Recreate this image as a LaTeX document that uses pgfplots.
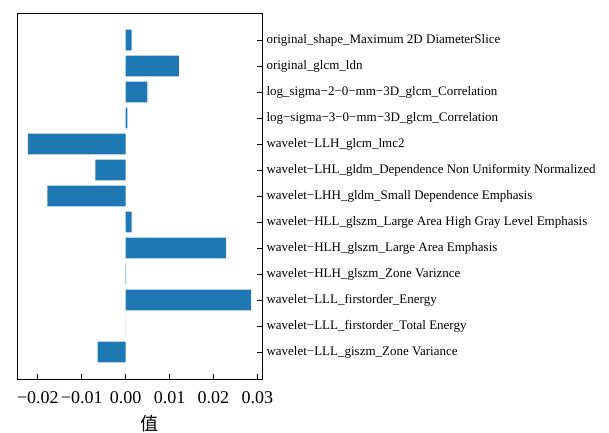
\documentclass[border=0pt]{standalone}
\usepackage{pgfplots}
\pgfplotsset{compat=1.18}
\usepackage{fontspec}
\setmainfont{Liberation Serif}
\newfontfamily\cjk{Noto Sans CJK SC}
\definecolor{barblue}{HTML}{1F77B4}
\begin{document}
\begin{tikzpicture}
\begin{axis}[
  name=ax,
  scale only axis,
  width=245pt, height=366pt,
  xmin=-0.02476, xmax=0.03105,
  ymin=-1.04, ymax=13.04,
  y dir=reverse,
  xbar, bar width=0.8,
  scaled x ticks=false,
  xtick={-0.02,-0.01,0,0.01,0.02,0.03},
  xticklabels={−0.02,−0.01,0.00,0.01,0.02,0.03},
  ytick={0,...,12},
  yticklabels={
    original\_shape\_Maximum 2D DiameterSlice,
    original\_glcm\_ldn,
    log\_sigma−2−0−mm−3D\_glcm\_Correlation,
    log−sigma−3−0−mm−3D\_glcm\_Correlation,
    wavelet−LLH\_glcm\_lmc2,
    wavelet−LHL\_gldm\_Dependence Non Uniformity Normalized,
    wavelet−LHH\_gldm\_Small Dependence Emphasis,
    wavelet−HLL\_glszm\_Large Area High Gray Level Emphasis,
    wavelet−HLH\_glszm\_Large Area Emphasis,
    wavelet−HLH\_glszm\_Zone Variznce,
    wavelet−LLL\_firstorder\_Energy,
    wavelet−LLL\_firstorder\_Total Energy,
    wavelet−LLL\_giszm\_Zone Variance},
  yticklabel pos=right,
  ytick pos=right,
  xtick pos=bottom,
  tick align=inside,
  major tick length=5pt,
  tick style={black, line width=0.8pt},
  axis line style={black, line width=0.8pt},
  x tick label style={font=\fontsize{18}{18}\selectfont, yshift=-9pt},
  y tick label style={font=\fontsize{13}{14}\selectfont, xshift=1pt},
  xlabel={\cjk\fontsize{18}{18}\selectfont 值},
  xlabel style={xshift=10pt, yshift=-8pt, inner sep=0pt},
]
\addplot[fill=barblue, draw=none] coordinates {
  (0.00137,0)
  (0.01214,1)
  (0.00493,2)
  (0.00036,3)
  (-0.02226,4)
  (-0.00692,5)
  (-0.01785,6)
  (0.00137,7)
  (0.02285,8)
  (0.0001,9)
  (0.0286,10)
  (0,11)
  (-0.00638,12)
};
\end{axis}
\pgfresetboundingbox
\path[use as bounding box] ([xshift=-17pt,yshift=-53pt]ax.south west) rectangle ([xshift=347pt,yshift=13pt]ax.north east);
\end{tikzpicture}
\end{document}
